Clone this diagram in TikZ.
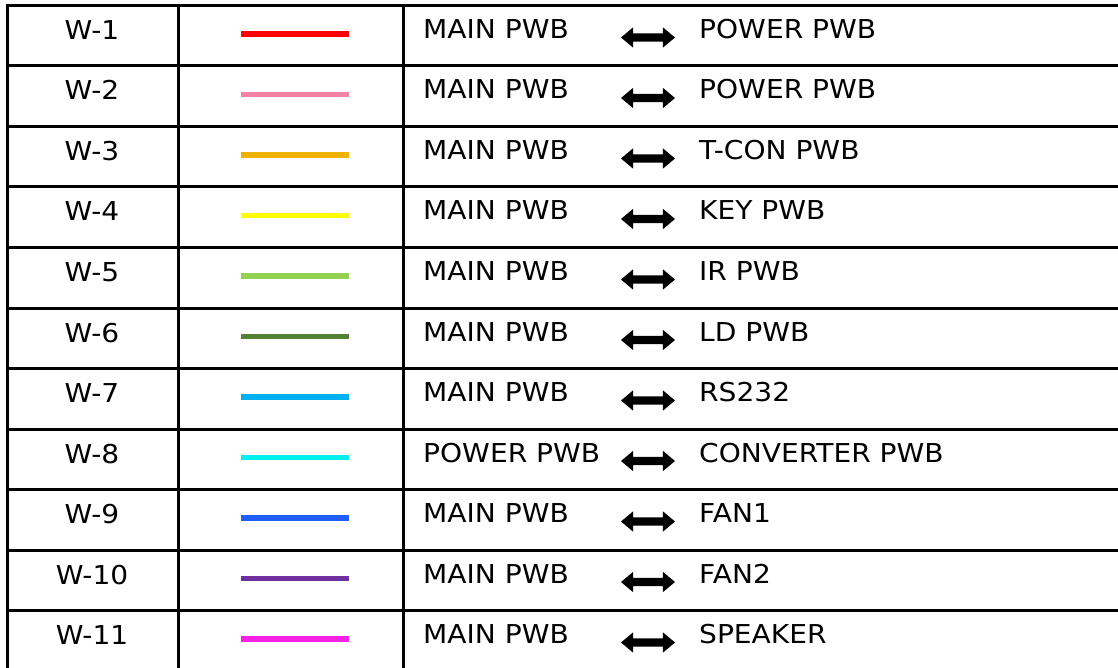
\documentclass[tikz,border=0pt]{standalone}
\usepackage{fontspec}
\setmainfont{DejaVu Sans}[FakeStretch=1.08]
\usetikzlibrary{shapes.arrows}
\definecolor{c1}{HTML}{FF0000}
\definecolor{c2}{HTML}{F383A3}
\definecolor{c3}{HTML}{EFB200}
\definecolor{c4}{HTML}{FFFF00}
\definecolor{c5}{HTML}{92D050}
\definecolor{c6}{HTML}{548235}
\definecolor{c7}{HTML}{00B0F0}
\definecolor{c8}{HTML}{00F0F0}
\definecolor{c9}{HTML}{1F5FF5}
\definecolor{c10}{HTML}{7030A0}
\definecolor{c11}{HTML}{F522E6}
\tikzset{
  grid/.style={line width=3pt, black},
  txt/.style={inner sep=0pt, anchor=base, font=\fontsize{26}{31}\selectfont},
  ltxt/.style={inner sep=0pt, anchor=base west, font=\fontsize{26}{31}\selectfont},
  wire/.style={line width=5.5pt},
  dbl/.style={double arrow, fill=black, draw=none, minimum height=54pt, minimum width=20pt,
    inner sep=4pt, double arrow head extend=6pt, double arrow tip angle=80}
}
\begin{document}
\begin{tikzpicture}[x=1pt,y=-1pt]
\useasboundingbox (0,0) rectangle (1118,668);
\fill[white] (0,0) rectangle (1118,668);
% horizontal lines
\foreach \i in {0,...,10} {
  \draw[grid] (5.5,{5.5+\i*60.5}) -- (1120,{5.5+\i*60.5});
}
% vertical lines
\foreach \x in {7,178,403} {
  \draw[grid] (\x,4) -- (\x,670);
}
\foreach \i/\lab/\a/\b in {
  1/W-1/MAIN PWB/POWER PWB,
  2/W-2/MAIN PWB/POWER PWB,
  3/W-3/MAIN PWB/T-CON PWB,
  4/W-4/MAIN PWB/KEY PWB,
  5/W-5/MAIN PWB/IR PWB,
  6/W-6/MAIN PWB/LD PWB,
  7/W-7/MAIN PWB/RS232,
  8/W-8/POWER PWB/CONVERTER PWB,
  9/W-9/MAIN PWB/FAN1,
  10/W-10/MAIN PWB/FAN2,
  11/W-11/MAIN PWB/SPEAKER} {
  \pgfmathsetmacro{\t}{5.5+(\i-1)*60.5}
  \node[txt] (lab\i) at (92,{\t+34}) {\lab};
  \coordinate (ws\i) at (241,{\t+28.5});
  \coordinate (we\i) at (349,{\t+28.5});
  \draw[wire, draw=c\i] (ws\i) -- (we\i);
  \node[ltxt] (from\i) at (423,{\t+33}) {\a};
  \node[dbl] (arr\i) at (648,{\t+32}) {};
  \node[ltxt] (to\i) at (699,{\t+33}) {\b};
}
\end{tikzpicture}
\end{document}
